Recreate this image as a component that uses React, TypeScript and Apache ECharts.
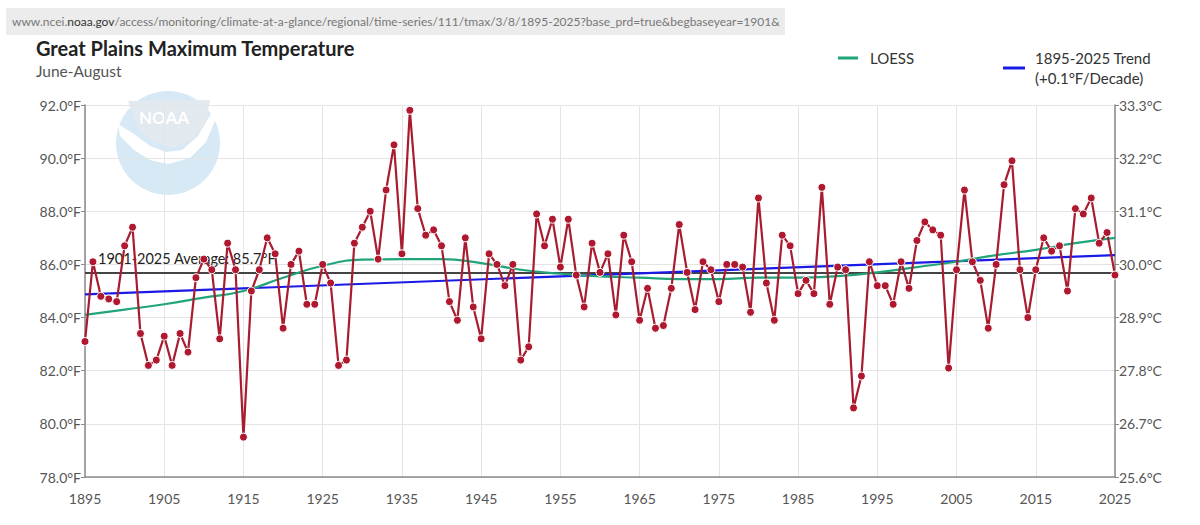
import React, { useEffect, useRef } from "react";
import * as echarts from "echarts";

const startYear = 1895;
const temps: number[] = [
  83.1, 86.1, 84.8, 84.7, 84.6, 86.7, 87.4, 83.4, 82.2, 82.4, // 1895-1904
  83.3, 82.2, 83.4, 82.7, 85.5, 86.2, 85.8, 83.2, 86.8, 85.8, // 1905-1914
  79.5, 85.0, 85.8, 87.0, 86.4, 83.6, 86.0, 86.5, 84.5, 84.5, // 1915-1924
  86.0, 85.3, 82.2, 82.4, 86.8, 87.4, 88.0, 86.2, 88.8, 90.5, // 1925-1934
  86.4, 91.8, 88.1, 87.1, 87.3, 86.7, 84.6, 83.9, 87.0, 84.4, // 1935-1944
  83.2, 86.4, 86.0, 85.2, 86.0, 82.4, 82.9, 87.9, 86.7, 87.7, // 1945-1954
  85.9, 87.7, 85.6, 84.4, 86.8, 85.7, 86.4, 84.1, 87.1, 86.1, // 1955-1964
  83.9, 85.1, 83.6, 83.7, 85.1, 87.5, 85.7, 84.3, 86.1, 85.8, // 1965-1974
  84.6, 86.0, 86.0, 85.9, 84.2, 88.5, 85.3, 83.9, 87.1, 86.7, // 1975-1984
  84.9, 85.4, 84.9, 88.9, 84.5, 85.9, 85.8, 80.6, 81.8, 86.1, // 1985-1994
  85.2, 85.2, 84.5, 86.1, 85.1, 86.9, 87.6, 87.3, 87.1, 82.1, // 1995-2004
  85.8, 88.8, 86.1, 85.4, 83.6, 86.0, 89.0, 89.9, 85.8, 84.0, // 2005-2014
  85.8, 87.0, 86.5, 86.7, 85.0, 88.1, 87.9, 88.5, 86.8, 87.2, // 2015-2024
  85.6, // 2025
];
const years: string[] = temps.map((_, i) => String(startYear + i));

const loessYears: string[] = [
  "1895", "1900", "1905", "1910", "1915", "1920", "1925", "1930", "1935",
  "1940", "1945", "1950", "1955", "1960", "1965", "1970", "1975", "1980",
  "1985", "1990", "1995", "2000", "2005", "2010", "2015", "2020", "2025",
];
const loessValues: number[] = [
  84.1, 84.3, 84.5, 84.75, 85.0, 85.5, 85.95, 86.18, 86.2,
  86.2, 86.05, 85.8, 85.65, 85.55, 85.5, 85.45, 85.45, 85.5,
  85.5, 85.56, 85.7, 85.9, 86.1, 86.35, 86.55, 86.8, 87.0,
];
const trendYears: string[] = ["1895", "2025"];
const trendValues: number[] = [84.87, 86.35];
const averageValue = 85.7;
const averageLabel = "1901-2025 Average: 85.7°F";

const yMin = 78;
const yMax = 92;
const yStep = 2;

const title = "Great Plains Maximum Temperature";
const subtitle = "June-August";
const loessName = "LOESS";
const trendName1 = "1895-2025 Trend";
const trendName2 = "(+0.1°F/Decade)";
const urlHost = "www.ncei.";
const urlBold = "noaa.gov";
const urlRest =
  "/access/monitoring/climate-at-a-glance/regional/time-series/111/tmax/3/8/1895-2025?base_prd=true&begbaseyear=1901&";

const FONT = "Lato, 'Noto Sans', sans-serif";

export default function App() {
  const ref = useRef<HTMLDivElement>(null);
  useEffect(() => {
    if (!ref.current) return;
    const chart = echarts.init(ref.current, undefined, { renderer: "svg" });
    const option: any = {
      animation: false,
      backgroundColor: "#ffffff",
      textStyle: { fontFamily: FONT },
      grid: { left: 85, right: 85, top: 105, bottom: 48, containLabel: false },
      xAxis: {
        type: "category",
        data: years,
        boundaryGap: false,
        axisLine: { show: true, lineStyle: { color: "#8a8a8a", width: 1.5 } },
        axisTick: { show: false },
        axisLabel: {
          interval: 9,
          color: "#555",
          fontSize: 14,
          fontFamily: FONT,
          margin: 14,
        },
        splitLine: { show: true, interval: 9, lineStyle: { color: "#e4e4e4", width: 1 } },
      },
      yAxis: [
        {
          type: "value",
          min: yMin,
          max: yMax,
          interval: yStep,
          position: "left",
          axisLine: { show: true, lineStyle: { color: "#8a8a8a", width: 1.5 } },
          axisTick: { show: true, length: 4, lineStyle: { color: "#8a8a8a" } },
          axisLabel: {
            color: "#555",
            fontSize: 14,
            fontFamily: FONT,
            margin: 4,
            formatter: (v: number) => v.toFixed(1) + "°F",
          },
          splitLine: { show: true, lineStyle: { color: "#e4e4e4", width: 1 } },
        },
        {
          type: "value",
          min: yMin,
          max: yMax,
          interval: yStep,
          position: "right",
          axisLine: { show: true, lineStyle: { color: "#8a8a8a", width: 1.5 } },
          axisTick: { show: true, length: 4, lineStyle: { color: "#8a8a8a" } },
          axisLabel: {
            color: "#555",
            fontSize: 14,
            fontFamily: FONT,
            margin: 4,
            formatter: (v: number) => (((v - 32) * 5) / 9).toFixed(1) + "°C",
          },
          splitLine: { show: false },
        },
      ],
      series: [
        {
          name: "Trend",
          type: "line",
          data: trendYears.map((y, i) => [y, trendValues[i]]),
          symbol: "none",
          lineStyle: { color: "#1a1ae6", width: 2.2 },
          z: 3,
        },
        {
          name: "LOESS",
          type: "line",
          data: loessYears.map((y, i) => [y, loessValues[i]]),
          symbol: "none",
          smooth: true,
          lineStyle: { color: "#21a47a", width: 2.2 },
          z: 3,
        },
        {
          name: "Tmax",
          type: "line",
          data: temps,
          symbol: "circle",
          symbolSize: 8,
          showAllSymbol: true,
          itemStyle: { color: "#b01830", borderColor: "#ffffff", borderWidth: 1 },
          lineStyle: { color: "#a81c30", width: 2.2 },
          z: 5,
          markLine: {
            silent: true,
            symbol: "none",
            lineStyle: { color: "#444", width: 2, type: "solid" },
            label: {
              show: true,
              position: "insideStartTop",
              formatter: averageLabel,
              color: "#222",
              fontSize: 14.5,
              fontFamily: FONT,
              distance: [13, 6],
            },
            data: [{ yAxis: averageValue }],
            z: 2,
          },
        },
      ],
      graphic: [
        {
          type: "rect",
          shape: { x: 6, y: 8, width: 779, height: 27 },
          style: { fill: "#ececec" },
          silent: true,
        },
        {
          type: "text",
          x: 12,
          y: 21,
          style: {
            text: `{a|${urlHost}}{b|${urlBold}}{a|${urlRest}}`,
            verticalAlign: "middle",
            rich: {
              a: { fontSize: 12, fill: "#777", fontFamily: FONT },
              b: { fontSize: 12, fill: "#333", fontFamily: FONT },
            },
          },
        },
        {
          type: "text",
          x: 36,
          y: 48,
          style: {
            text: title,
            fontSize: 20,
            fontWeight: "bold",
            fill: "#222",
            fontFamily: FONT,
            verticalAlign: "middle",
          },
        },
        {
          type: "text",
          x: 36,
          y: 71,
          style: {
            text: subtitle,
            fontSize: 15.5,
            fill: "#555",
            fontFamily: FONT,
            verticalAlign: "middle",
          },
        },
        {
          type: "line",
          shape: { x1: 838, y1: 58, x2: 858, y2: 58 },
          style: { stroke: "#21a47a", lineWidth: 3 },
        },
        {
          type: "text",
          x: 870,
          y: 58,
          style: { text: loessName, fontSize: 15, fill: "#333", fontFamily: FONT, verticalAlign: "middle" },
        },
        {
          type: "line",
          shape: { x1: 1003, y1: 68, x2: 1025, y2: 68 },
          style: { stroke: "#1a1ae6", lineWidth: 3 },
        },
        {
          type: "text",
          x: 1035,
          y: 58,
          style: { text: trendName1, fontSize: 15, fill: "#333", fontFamily: FONT, verticalAlign: "middle" },
        },
        {
          type: "text",
          x: 1035,
          y: 78,
          style: { text: trendName2, fontSize: 15, fill: "#333", fontFamily: FONT, verticalAlign: "middle" },
        },
        {
          type: "group",
          silent: true,
          z: -1,
          children: [
            { type: "circle", shape: { cx: 168, cy: 143, r: 52 }, style: { fill: "#d6e9f5" } },
            {
              type: "polygon",
              shape: {
                points: [
                  [128, 101], [210, 100], [205, 126], [192, 140], [172, 148], [152, 141], [139, 130],
                ],
              },
              style: { fill: "#e2e9ef" },
            },
            {
              type: "polygon",
              shape: {
                points: [
                  [118, 124], [134, 134], [150, 146], [166, 152], [182, 150], [198, 136], [212, 112],
                  [217, 116], [206, 142], [190, 158], [168, 164], [150, 160], [134, 150], [120, 136],
                ],
              },
              style: { fill: "#ffffff" },
            },
            {
              type: "text",
              x: 164,
              y: 117,
              style: {
                text: "NOAA",
                fontSize: 17,
                fontWeight: "bold",
                fill: "#ffffff",
                fontFamily: FONT,
                align: "center",
                verticalAlign: "middle",
              },
            },
          ],
        },
      ],
    };
    chart.setOption(option);
    return () => chart.dispose();
  }, []);
  return (
    <div
      ref={ref}
      style={{ position: "fixed", left: 0, top: 0, width: 1200, height: 525, background: "#fff" }}
    />
  );
}
